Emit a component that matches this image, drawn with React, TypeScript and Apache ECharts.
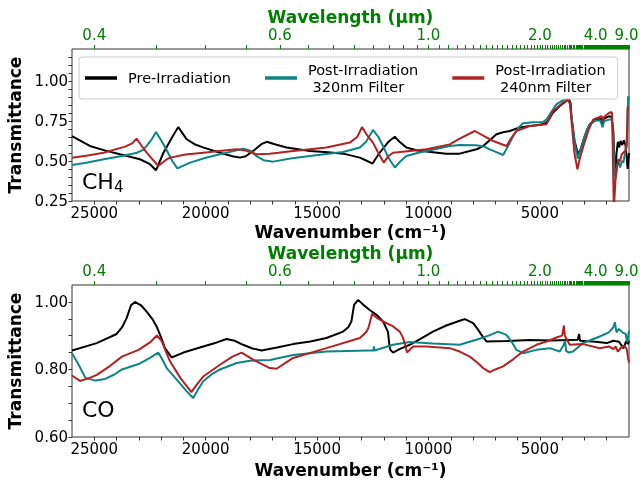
import React, { useEffect, useRef } from "react";
import * as echarts from "echarts";

// ---------- data (wavenumber cm^-1, transmittance) ----------
const seriesNames = ["Pre-Irradiation", "Post-Irradiation\n 320nm Filter", "Post-Irradiation\n 240nm Filter"];
const seriesColors = ["#000000", "#0b8585", "#b22222"];

const ch4Pre: [number, number][] = [
  [26000, 0.655], [25200, 0.594], [24500, 0.565], [23850, 0.542], [22950, 0.511], [22500, 0.48], [22230, 0.442],
  [21900, 0.55], [21500, 0.65], [21230, 0.712], [20855, 0.636], [20500, 0.605], [20120, 0.585], [19360, 0.552],
  [18800, 0.53], [18460, 0.521], [18200, 0.53], [17800, 0.57], [17500, 0.605], [17260, 0.62], [16900, 0.605],
  [16370, 0.584], [15320, 0.562], [14500, 0.555], [13830, 0.546], [13080, 0.521], [12750, 0.5], [12510, 0.484],
  [12200, 0.55], [11800, 0.62], [11510, 0.652], [11300, 0.62], [10990, 0.584], [10500, 0.566], [10090, 0.559],
  [9200, 0.546], [8600, 0.546], [8146, 0.562], [7800, 0.575], [7548, 0.594], [7250, 0.63], [6950, 0.667],
  [6650, 0.68], [6352, 0.6875], [6100, 0.7], [5903, 0.709], [5500, 0.718], [5155, 0.723], [4900, 0.73],
  [4706, 0.74], [4550, 0.77], [4407, 0.8025], [4108, 0.844], [3808, 0.875], [3700, 0.89], [3620, 0.86],
  [3584, 0.78], [3450, 0.63], [3285, 0.54], [3150, 0.58], [3060, 0.625], [2900, 0.69], [2760, 0.73],
  [2460, 0.76], [2250, 0.762], [2180, 0.735], [2120, 0.765], [1880, 0.78], [1780, 0.775], [1700, 0.68],
  [1650, 0.47], [1610, 0.41], [1560, 0.55], [1500, 0.62], [1440, 0.585], [1380, 0.625], [1300, 0.6],
  [1230, 0.63], [1160, 0.6], [1100, 0.52], [1060, 0.45], [1000, 0.55],
];
const ch4Post320: [number, number][] = [
  [26000, 0.475], [25300, 0.49], [24580, 0.511], [23800, 0.53], [23080, 0.552], [22800, 0.57], [22650, 0.594],
  [22400, 0.64], [22230, 0.681], [22000, 0.63], [21770, 0.573], [21500, 0.5], [21270, 0.454], [20700, 0.49],
  [20000, 0.52], [19360, 0.542], [18800, 0.56], [18310, 0.5775], [18000, 0.565], [17720, 0.531], [17400, 0.505],
  [16970, 0.496], [16200, 0.515], [15320, 0.531], [14500, 0.545], [13830, 0.556], [13080, 0.584], [12800, 0.62],
  [12490, 0.694], [12250, 0.65], [12040, 0.594], [11800, 0.52], [11510, 0.459], [11250, 0.5], [10990, 0.531],
  [10500, 0.55], [10090, 0.5625], [9043, 0.594], [8600, 0.6], [7850, 0.598], [7500, 0.59], [7250, 0.573],
  [6950, 0.555], [6650, 0.5375], [6400, 0.6], [6200, 0.656], [5950, 0.71], [5755, 0.736], [5300, 0.742],
  [4860, 0.744], [4700, 0.76], [4560, 0.79], [4260, 0.854], [3960, 0.88], [3750, 0.89], [3650, 0.86],
  [3560, 0.75], [3420, 0.6], [3300, 0.515], [3150, 0.58], [2990, 0.656], [2800, 0.72], [2610, 0.75],
  [2300, 0.755], [2180, 0.71], [2120, 0.75], [1850, 0.76], [1760, 0.755], [1700, 0.62], [1650, 0.45],
  [1600, 0.39], [1540, 0.47], [1470, 0.5], [1400, 0.46], [1320, 0.5], [1250, 0.49], [1180, 0.55],
  [1120, 0.58], [1080, 0.7], [1040, 0.905], [1000, 0.88],
];
const ch4Post240: [number, number][] = [
  [26000, 0.521], [25300, 0.535], [24580, 0.552], [23620, 0.59], [23300, 0.61], [23100, 0.64], [22900, 0.6],
  [22650, 0.552], [22130, 0.469], [21800, 0.505], [21600, 0.521], [20900, 0.54], [20110, 0.552], [19400, 0.563],
  [18610, 0.573], [18200, 0.565], [17720, 0.542], [17120, 0.546], [16070, 0.5625], [14580, 0.584], [13530, 0.615],
  [13200, 0.65], [12980, 0.7125], [12750, 0.66], [12490, 0.615], [12250, 0.55], [12010, 0.49], [11800, 0.53],
  [11590, 0.552], [10090, 0.573], [9043, 0.604], [8600, 0.64], [7920, 0.6875], [7500, 0.655], [7100, 0.625],
  [6500, 0.594], [6300, 0.64], [6055, 0.6875], [5455, 0.719], [4706, 0.729], [4550, 0.77], [4407, 0.8125],
  [3960, 0.865], [3750, 0.88], [3650, 0.86], [3560, 0.72], [3450, 0.55], [3315, 0.448], [3200, 0.52],
  [3045, 0.594], [2800, 0.7], [2600, 0.76], [2225, 0.78], [2180, 0.745], [2120, 0.775], [1900, 0.8],
  [1810, 0.806], [1760, 0.8], [1720, 0.5], [1680, 0.2], [1650, 0.2], [1600, 0.4], [1485, 0.51], [1400, 0.5],
  [1330, 0.54], [1260, 0.552], [1180, 0.56], [1100, 0.6], [1060, 0.835], [1000, 0.84],
];

const coPre: [number, number][] = [
  [26000, 0.856], [24890, 0.878], [23995, 0.905], [23750, 0.925], [23550, 0.952], [23350, 0.99], [23175, 1.0],
  [22900, 0.99], [22650, 0.971], [22400, 0.95], [22200, 0.927], [22000, 0.895], [21830, 0.863], [21530, 0.8355],
  [21000, 0.85], [20110, 0.868], [19500, 0.88], [19060, 0.89], [18700, 0.885], [18320, 0.873], [17900, 0.862],
  [17490, 0.856], [16800, 0.865], [16075, 0.875], [15300, 0.883], [14580, 0.893], [13830, 0.912], [13600, 0.925],
  [13460, 0.942], [13340, 0.991], [13160, 1.006], [12900, 0.99], [12640, 0.976], [12300, 0.96], [12040, 0.942],
  [11820, 0.912], [11750, 0.87], [11710, 0.858], [11590, 0.85], [11300, 0.86], [10840, 0.873], [10300, 0.893],
  [9800, 0.912], [9200, 0.93], [8600, 0.944], [8370, 0.949], [7995, 0.937], [7800, 0.92], [7620, 0.9025],
  [7400, 0.883], [6500, 0.884], [5500, 0.887], [4500, 0.886], [3300, 0.888], [3240, 0.905], [3200, 0.885],
  [2500, 0.882], [2000, 0.878], [1700, 0.885], [1450, 0.882], [1350, 0.873], [1250, 0.862], [1150, 0.88],
  [1100, 0.885], [1050, 0.875], [1000, 0.885],
];
const coPost320: [number, number][] = [
  [26000, 0.848], [25700, 0.814], [25400, 0.775], [24950, 0.767], [24510, 0.772], [24100, 0.785], [23760, 0.8],
  [23010, 0.816], [22500, 0.834], [22130, 0.85], [21950, 0.83], [21750, 0.804], [21300, 0.77], [20850, 0.735],
  [20560, 0.7155], [20350, 0.74], [20110, 0.765], [19700, 0.787], [19360, 0.8], [18610, 0.819], [18010, 0.826],
  [17120, 0.828], [16075, 0.843], [14580, 0.853], [12700, 0.856], [12470, 0.856], [12450, 0.868], [12420, 0.856],
  [11590, 0.873], [10840, 0.881], [9800, 0.877], [8600, 0.873], [7850, 0.888], [7300, 0.9], [6880, 0.912],
  [6500, 0.9025], [6250, 0.88], [6055, 0.858], [5755, 0.848], [5155, 0.858], [4560, 0.863], [4108, 0.853],
  [3950, 0.87], [3870, 0.885], [3820, 0.855], [3700, 0.85], [3510, 0.853], [3060, 0.878], [2600, 0.89],
  [2310, 0.8975], [1900, 0.91], [1700, 0.925], [1635, 0.94], [1560, 0.91], [1450, 0.92], [1300, 0.91],
  [1150, 0.905], [1080, 0.88], [1000, 0.915],
];
const coPost240: [number, number][] = [
  [26000, 0.782], [25640, 0.766], [25200, 0.775], [24890, 0.784], [24300, 0.81], [23760, 0.838], [23010, 0.858],
  [22500, 0.88], [22190, 0.9005], [21965, 0.883], [21800, 0.855], [21600, 0.824], [21140, 0.775], [20640, 0.733],
  [20400, 0.755], [20110, 0.779], [19360, 0.814], [18800, 0.838], [18390, 0.85], [17870, 0.829], [17120, 0.804],
  [16820, 0.802], [16400, 0.82], [16075, 0.834], [14580, 0.863], [13080, 0.893], [12800, 0.91], [12700, 0.922],
  [12530, 0.9645], [12300, 0.952], [12040, 0.942], [11600, 0.928], [11290, 0.912], [11150, 0.895], [11070, 0.878],
  [10960, 0.85], [10690, 0.868], [10090, 0.868], [9043, 0.863], [8600, 0.853], [8146, 0.838], [7800, 0.82],
  [7548, 0.804], [7250, 0.792], [7000, 0.8], [6650, 0.809], [6200, 0.83], [5755, 0.853], [5155, 0.873],
  [4600, 0.885], [4260, 0.8945], [4000, 0.9], [3920, 0.93], [3880, 0.9], [3660, 0.873], [3060, 0.875],
  [2310, 0.863], [1900, 0.868], [1700, 0.86], [1600, 0.868], [1500, 0.853], [1350, 0.865], [1200, 0.87],
  [1100, 0.86], [1030, 0.83], [1000, 0.82],
];

// ---------- axis ticks ----------
const wnMin = 1000;
const wnMax = 26000;
const wnLabels = [25000, 20000, 15000, 10000, 5000];
const wnTicks = [2000, 3000, 4000, 5000, 6000, 7000, 8000, 9000, 10000, 11000, 12000, 13000, 14000, 15000,
  16000, 17000, 18000, 19000, 20000, 21000, 22000, 23000, 24000, 25000];
const wlLabels = [0.4, 0.6, 1.0, 2.0, 4.0, 9.0]; // micrometres
const wlTickStep = 0.05;
const wlTickStart = 0.4;
const wlTickEnd = 10.0;
const ch4YLabels = [0.25, 0.5, 0.75, 1.0];
const ch4YTicks = [0.25, 0.3, 0.35, 0.4, 0.45, 0.5, 0.55, 0.6, 0.65, 0.7, 0.75, 0.8, 0.85, 0.9, 0.95, 1.0, 1.05, 1.1, 1.15];
const coYLabels = [0.6, 0.8, 1.0];
const coYTicks = [0.6, 0.65, 0.7, 0.75, 0.8, 0.85, 0.9, 0.95, 1.0];

const FONT = "DejaVu Sans";
const GREEN = "#008000";

export default function App() {
  const ref = useRef<HTMLDivElement>(null);
  useEffect(() => {
    if (!ref.current) return;
    const chart = echarts.init(ref.current, undefined, { renderer: "svg" });

    const wlTickWn: number[] = [];
    const nSteps = Math.round((wlTickEnd - wlTickStart) / wlTickStep);
    for (let i = 0; i <= nSteps; i++) {
      const wl = wlTickStart + i * wlTickStep;
      const wn = 10000 / wl;
      if (wn >= wnMin && wn <= wnMax) wlTickWn.push(wn);
    }
    const wlLabelWn = wlLabels.map((w) => 10000 / w);

    const bottomAxis = (gridIndex: number, nameGap: number) => ({
      type: "value",
      gridIndex,
      position: "bottom",
      inverse: true,
      min: wnMin,
      max: wnMax,
      axisLine: { show: false },
      splitLine: { show: false },
      axisTick: { show: true, customValues: wnTicks, length: 3.5, lineStyle: { color: "#333", width: 1 } },
      axisLabel: {
        customValues: wnLabels,
        fontSize: 15,
        color: "#000",
        margin: 4,
        fontFamily: FONT,
        formatter: (v: number) => String(Math.round(v)),
      },
      name: "Wavenumber (cm⁻¹)",
      nameLocation: "middle",
      nameGap,
      nameTextStyle: { fontSize: 17, fontWeight: "bold", color: "#000", fontFamily: FONT },
    });
    const topAxis = (gridIndex: number, nameGap: number) => ({
      type: "value",
      gridIndex,
      position: "top",
      inverse: true,
      min: wnMin,
      max: wnMax,
      axisLine: { show: false },
      splitLine: { show: false },
      axisTick: { show: true, customValues: wlTickWn, length: 4, lineStyle: { color: GREEN, width: 1 } },
      axisLabel: {
        customValues: wlLabelWn,
        fontSize: 15,
        color: GREEN,
        margin: 7,
        fontFamily: FONT,
        formatter: (v: number) => (10000 / v).toFixed(1),
      },
      name: "Wavelength (µm)",
      nameLocation: "middle",
      nameGap,
      nameTextStyle: { fontSize: 17, fontWeight: "bold", color: GREEN, fontFamily: FONT },
    });
    const yAxis = (gridIndex: number, min: number, max: number, labels: number[], ticks: number[]) => ({
      type: "value",
      gridIndex,
      min,
      max,
      axisLine: { show: false },
      splitLine: { show: false },
      axisTick: { show: true, customValues: ticks, length: 3.5, lineStyle: { color: "#333", width: 1 } },
      axisLabel: {
        customValues: labels,
        fontSize: 15,
        color: "#000",
        margin: 4,
        fontFamily: FONT,
        formatter: (v: number) => v.toFixed(2),
      },
      name: "Transmittance",
      nameLocation: "middle",
      nameGap: 46,
      nameTextStyle: { fontSize: 17, fontWeight: "bold", color: "#000", fontFamily: FONT },
    });

    const panels = [
      [ch4Pre, ch4Post320, ch4Post240],
      [coPre, coPost320, coPost240],
    ];
    const series: any[] = [];
    panels.forEach((panel, p) => {
      panel.forEach((data, i) => {
        series.push({
          type: "line",
          name: seriesNames[i],
          xAxisIndex: p * 2,
          yAxisIndex: p,
          data,
          symbol: "none",
          showSymbol: false,
          clip: true,
          lineStyle: { color: seriesColors[i], width: 2 },
          itemStyle: { color: seriesColors[i] },
          z: 2 + i,
        });
      });
    });

    const gridBase = {
      left: 72, width: 557, height: 152, show: true, borderColor: "#333", borderWidth: 1,
      backgroundColor: "transparent", containLabel: false, outerBoundsMode: "none",
    };

    chart.setOption({
      animation: false,
      textStyle: { fontFamily: FONT },
      grid: [
        { ...gridBase, top: 49 },
        { ...gridBase, top: 285 },
      ],
      xAxis: [bottomAxis(0, 22), topAxis(0, 24), bottomAxis(1, 24), topAxis(1, 24)],
      yAxis: [
        yAxis(0, 0.25, 1.2, ch4YLabels, ch4YTicks),
        yAxis(1, 0.6, 1.05, coYLabels, coYTicks),
      ],
      legend: {
        data: seriesNames,
        left: 79,
        top: 57,
        orient: "horizontal",
        icon: "rect",
        itemWidth: 32,
        itemHeight: 3.5,
        itemGap: 34,
        padding: [4, 12, 4, 6],
        backgroundColor: "rgba(255,255,255,0.85)",
        borderColor: "#cccccc",
        borderWidth: 1,
        borderRadius: 3,
        textStyle: { fontSize: 14.5, color: "#000", lineHeight: 17, fontFamily: FONT, padding: [0, 0, 0, 6] },
        selectedMode: false,
      },
      graphic: [
        {
          type: "text", left: 82, top: 166,
          style: {
            text: "{a|CH}{b|4}",
            fill: "#000",
            fontFamily: FONT,
            rich: {
              a: { fontSize: 22, lineHeight: 24, verticalAlign: "top", fontFamily: FONT },
              b: { fontSize: 15, lineHeight: 15, padding: [13, 0, 0, 0], verticalAlign: "bottom", fontFamily: FONT },
            },
          },
        },
        { type: "text", left: 82, top: 398, style: { text: "CO", fontSize: 22, fill: "#000", fontFamily: FONT } },
      ],
      series,
    });
    return () => chart.dispose();
  }, []);
  return <div ref={ref} style={{ position: "fixed", left: 0, top: 0, width: 640, height: 481 }} />;
}
